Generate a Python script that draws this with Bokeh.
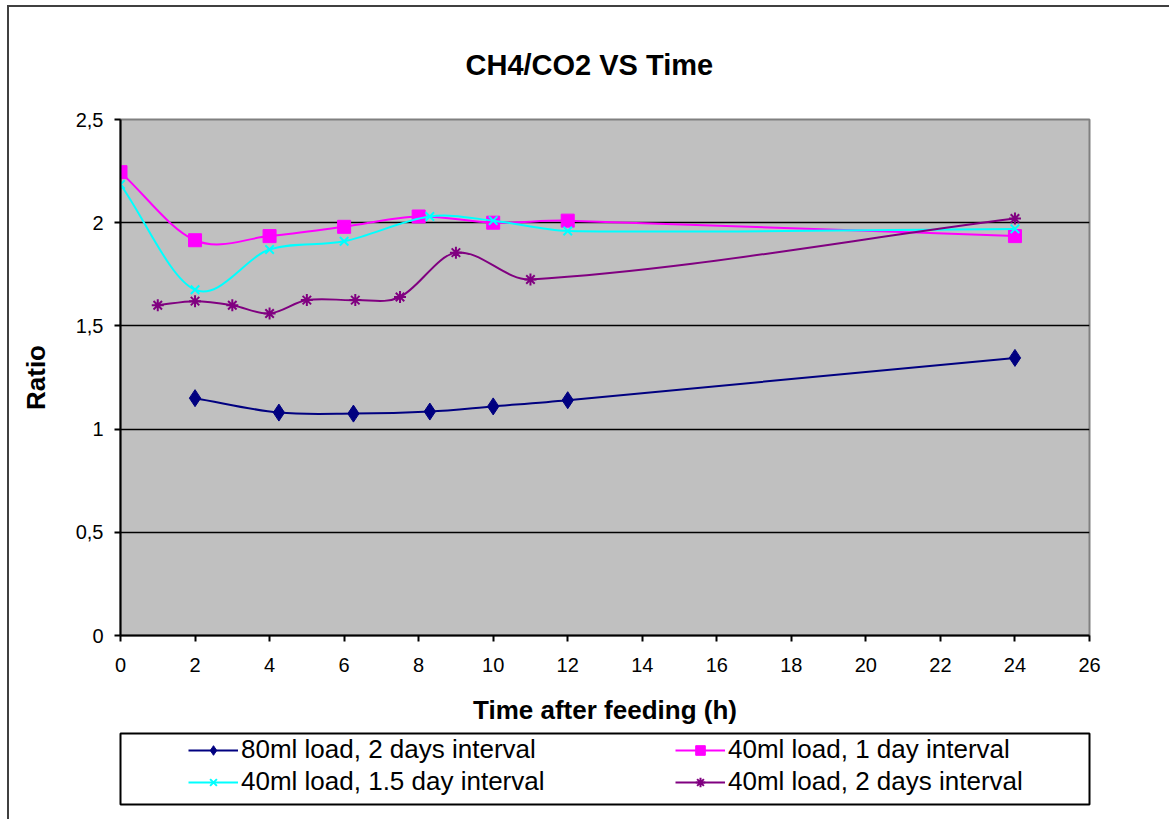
import numpy as np
from bokeh.plotting import figure
from bokeh.layouts import column
from bokeh.models import (ColumnDataSource, FixedTicker, Legend, LegendItem, Range1d)
from bokeh.embed import file_html
from bokeh.resources import INLINE

# ---------------- data ----------------
title_text = "CH4/CO2 VS Time"
x_title = "Time after feeding (h)"
y_title = "Ratio"

x_ticks = [0, 2, 4, 6, 8, 10, 12, 14, 16, 18, 20, 22, 24, 26]
y_ticks = [0, 0.5, 1, 1.5, 2, 2.5]
y_tick_labels = ["0", "0,5", "1", "1,5", "2", "2,5"]

names = ["80ml load, 2 days interval", "40ml load, 1 day interval",
         "40ml load, 1.5 day interval", "40ml load, 2 days interval"]

t_80_2d = [2, 4.25, 6.25, 8.3, 10, 12, 24]
r_80_2d = [1.15, 1.08, 1.075, 1.085, 1.11, 1.14, 1.345]

t_40_1d = [0, 2, 4, 6, 8, 10, 12, 24]
r_40_1d = [2.245, 1.915, 1.935, 1.98, 2.03, 2.0, 2.01, 1.935]

t_40_15d = [0, 2, 4, 6, 8.3, 10, 12, 24]
r_40_15d = [2.185, 1.675, 1.87, 1.91, 2.03, 2.01, 1.96, 1.97]

t_40_2d = [1, 2, 3, 4, 5, 6.3, 7.5, 9, 11, 24]
r_40_2d = [1.60, 1.62, 1.60, 1.56, 1.625, 1.625, 1.64, 1.855, 1.725, 2.02]

colors = ["#000080", "#FF00FF", "#00FFFF", "#800080"]
markers = ["diamond", "square", "x", "asterisk"]
msizes = [17, 13, 12, 12]

FONT = "Liberation Sans"


def smooth_segments(xs, ys):
    """Cubic Bezier segments of a smoothed line through the points (Hermite in x)."""
    x = np.asarray(xs, float)
    y = np.asarray(ys, float)
    n = len(x)
    m = np.empty(n)
    m[1:-1] = (y[2:] - y[:-2]) / (x[2:] - x[:-2])
    m[0] = (y[1] - y[0]) / (x[1] - x[0])
    m[-1] = (y[-1] - y[-2]) / (x[-1] - x[-2])
    h = x[1:] - x[:-1]
    return dict(
        x0=x[:-1], y0=y[:-1], x1=x[1:], y1=y[1:],
        cx0=x[:-1] + h / 3.0, cy0=y[:-1] + m[:-1] * h / 3.0,
        cx1=x[1:] - h / 3.0, cy1=y[1:] - m[1:] * h / 3.0,
    )


# page geometry (content starts after the outer border)
OX, OY = 9, 7
PAGE_W, PAGE_H = 1169, 819
SPLIT = 731  # page y where the legend strip begins
FL, FR = 120, 1089  # frame left / right on the page

# ---------------- main chart ----------------
W1 = PAGE_W - OX
H1 = SPLIT - OY
p = figure(width=W1, height=H1, output_backend="svg", toolbar_location=None,
           x_range=Range1d(0, 26), y_range=Range1d(0, 2.5),
           min_border_left=FL - OX, min_border_right=W1 - (FR - OX),
           min_border_top=119 - OY, min_border_bottom=H1 - (635 - OY))

p.background_fill_color = "#C0C0C0"
p.border_fill_color = "white"
p.outline_line_color = "#808080"
p.outline_line_width = 2

p.title.text = title_text
p.title.align = "left"
p.title.offset = 345
p.title.text_font = FONT
p.title.text_font_size = "29px"
p.title.text_font_style = "bold"
p.title.text_color = "black"
p.title.standoff = 78

xa = p.xaxis[0]
ya = p.yaxis[0]
xa.ticker = FixedTicker(ticks=x_ticks)
ya.ticker = FixedTicker(ticks=y_ticks)
ya.major_label_overrides = {float(t): lab for t, lab in zip(y_ticks, y_tick_labels)}
for ax in (xa, ya):
    ax.axis_line_color = "black"
    ax.axis_line_width = 2
    ax.major_tick_line_color = "black"
    ax.major_tick_line_width = 2
    ax.major_tick_out = 6
    ax.major_tick_in = 0
    ax.minor_tick_line_color = None
    ax.major_label_text_font = FONT
    ax.major_label_text_font_size = "20px"
    ax.major_label_text_color = "black"
    ax.axis_label_text_font = FONT
    ax.axis_label_text_font_size = "26px"
    ax.axis_label_text_font_style = "bold"
    ax.axis_label_text_color = "black"
xa.axis_label = x_title
ya.axis_label = y_title
xa.major_label_standoff = 16
xa.axis_label_standoff = 20
ya.major_label_standoff = 11
ya.axis_label_standoff = 22

p.xgrid.grid_line_color = None
p.ygrid.ticker = FixedTicker(ticks=y_ticks[1:-1])
p.ygrid.grid_line_color = "black"
p.ygrid.grid_line_width = 1.5

series = [(t_80_2d, r_80_2d), (t_40_1d, r_40_1d), (t_40_15d, r_40_15d), (t_40_2d, r_40_2d)]
for (xs, ys), c, mk, s in zip(series, colors, markers, msizes):
    seg = ColumnDataSource(smooth_segments(xs, ys))
    p.bezier(x0="x0", y0="y0", x1="x1", y1="y1", cx0="cx0", cy0="cy0",
             cx1="cx1", cy1="cy1", source=seg, line_color=c, line_width=2)
    pts = ColumnDataSource(dict(x=xs, y=ys))
    p.scatter("x", "y", source=pts, marker=mk, size=s, fill_color=c,
              line_color=c, line_width=2 if mk in ("x", "asterisk") else 1)

# ---------------- legend strip (its frame is the legend box) ----------------
H2 = PAGE_H - SPLIT
q = figure(width=W1, height=H2, output_backend="svg", toolbar_location=None,
           x_range=Range1d(100, 101), y_range=Range1d(100, 101),
           x_axis_location=None, y_axis_location=None,
           min_border_left=FL - OX, min_border_right=W1 - (FR - OX),
           min_border_top=733 - SPLIT, min_border_bottom=PAGE_H - 804)
q.xgrid.grid_line_color = None
q.ygrid.grid_line_color = None
q.background_fill_color = "white"
q.border_fill_color = "white"
q.outline_line_color = "black"
q.outline_line_width = 2

# legend proxies: same data, drawn off this strip's range, so only their legend glyphs show
items = []
for (xs, ys), name, c, mk in zip(series, names, colors, markers):
    src = ColumnDataSource(dict(x=xs, y=ys))
    ln = q.line("x", "y", source=src, line_color=c, line_width=2)
    sc = q.scatter("x", "y", source=src, marker=mk, size=10, fill_color=c,
                   line_color=c, line_width=2 if mk in ("x", "asterisk") else 1)
    items.append(LegendItem(label=name, renderers=[ln, sc]))

legend = Legend(items=items, location=(188 - FL - 2, 5), orientation="horizontal",
                ncols=2, padding=2, margin=0, spacing=1,
                glyph_width=50, glyph_height=24, label_height=24,
                label_width=433, label_standoff=3,
                label_text_font=FONT, label_text_font_size="26px",
                label_text_color="black",
                background_fill_alpha=0, border_line_alpha=0)
q.add_layout(legend)

layout = column(p, q, spacing=0,
                styles={"border-left": "2px solid #404040",
                        "border-top": "2px solid #404040",
                        "margin-left": "7px", "margin-top": "5px"})

open("out.html", "w").write(file_html(layout, INLINE))
